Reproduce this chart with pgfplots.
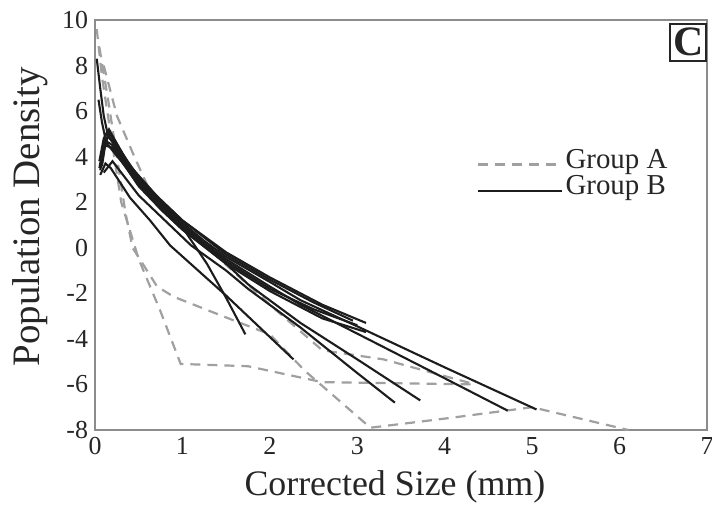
\documentclass[border=0pt]{standalone}
\usepackage{fontspec}
\setmainfont{Liberation Serif}
\usepackage{pgfplots}
\pgfplotsset{compat=1.18}
\definecolor{Frame}{HTML}{8C8C8C}
\definecolor{Ink}{HTML}{262626}
\definecolor{GrpA}{HTML}{A0A0A0}
\definecolor{GrpB}{HTML}{1C1C1C}
\tikzset{grpA/.style={GrpA,line width=1.1bp,dash pattern=on 5bp off 3.5bp},
  grpB/.style={GrpB,line width=1.05bp}}
\begin{document}
\begin{tikzpicture}
\begin{axis}[name=ax,scale only axis,width=306bp,height=205bp,
  xmin=0,xmax=7,ymin=-8,ymax=10,
  xtick={0,...,7},xticklabels={0,1,2,3,4,5,6,7},
  ytick={-8,-6,...,10},yticklabels={-8,-6,-4,-2,0,2,4,6,8,10},
  major tick length=0pt,
  axis line style={Frame,line width=1bp},
  tick label style={font=\fontsize{13}{13}\selectfont,text=Ink},
  xlabel={Corrected Size (mm)},ylabel={Population Density},
  label style={font=\fontsize{19.5}{20}\selectfont,text=Ink},
  xlabel style={at={(axis description cs:0.49,-0.139)},anchor=center,font=\fontsize{18}{19}\selectfont},
  ylabel style={at={(axis description cs:-0.106,0.52)},anchor=center},
  legend cell align=left,
  legend image code/.code={\draw[#1] (0bp,-2bp) -- (42bp,-2bp);},
  legend style={at={(axis cs:4.3,4.6)},anchor=north west,draw=none,fill=none,
    font=\fontsize{14.5}{15}\selectfont,text=Ink,row sep=0bp,
    nodes={inner sep=1bp},/tikz/every even column/.append style={column sep=6bp}}]
\addlegendimage{grpA}\addlegendentry{Group A}
\addlegendimage{grpB}\addlegendentry{Group B}
% Group A (dashed)
\addplot[grpA,forget plot] coordinates {(0.02,9.6) (0.08,7.5) (0.2,4.5) (0.3,2.0) (0.5,-0.5) (0.75,-2.8) (0.98,-5.1) (1.75,-5.2) (2.6,-5.9) (4.35,-6.0)};
\addplot[grpA,forget plot] coordinates {(0.05,8.8) (0.15,6.5) (0.25,4.0) (0.35,1.5) (0.43,0.0) (0.71,-1.7) (0.9,-2.15) (1.46,-3.0) (2.0,-3.8) (2.4,-5.4) (3.15,-7.9) (4.0,-7.5) (5.0,-7.0) (6.1,-8.0)};
\addplot[grpA,forget plot] coordinates {(0.1,8.0) (0.25,5.8) (0.45,4.0) (0.65,2.3) (1.2,0.3) (2.0,-2.5) (2.6,-4.5) (3.3,-4.9) (4.35,-6.0)};
% Group B (solid)
\addplot[grpB,forget plot] coordinates {(0.08,3.6) (0.12,4.6) (0.16,5.1) (0.22,4.7) (0.3,4.1) (0.5,3.0) (0.75,2.0) (1.0,1.1) (1.25,0.3) (1.5,-0.4) (2.0,-1.5) (2.35,-2.3) (3.0,-3.45) (4.0,-5.25) (5.05,-7.1)};
\addplot[grpB,forget plot] coordinates {(0.06,3.4) (0.1,4.3) (0.15,4.9) (0.2,4.7) (0.3,4.0) (0.5,2.9) (0.75,1.9) (1.0,1.0) (1.25,0.2) (1.5,-0.5) (2.0,-1.7) (2.35,-2.5) (3.0,-3.77) (4.0,-5.73) (4.72,-7.15)};
\addplot[grpB,forget plot] coordinates {(0.07,3.5) (0.12,4.7) (0.2,4.5) (0.5,2.8) (0.75,1.7) (1.0,0.8) (1.5,-0.7) (1.75,-1.6) (2.35,-3.3) (3.0,-4.9) (3.72,-6.7)};
\addplot[grpB,forget plot] coordinates {(0.1,3.3) (0.2,3.8) (0.5,2.3) (0.8,1.2) (1.1,0.1) (1.5,-1.0) (1.75,-1.8) (2.35,-3.5) (3.0,-5.5) (3.43,-6.8)};
\addplot[grpB,forget plot] coordinates {(0.06,3.2) (0.12,3.7) (0.18,3.5) (0.4,2.2) (0.63,1.2) (0.86,0.1) (1.5,-2.1) (2.27,-4.9)};
\addplot[grpB,forget plot] coordinates {(0.05,3.8) (0.1,4.8) (0.16,5.2) (0.3,4.2) (0.5,3.1) (0.75,2.0) (1.0,0.9) (1.28,-0.7) (1.5,-2.2) (1.72,-3.8)};
\addplot[grpB,forget plot] coordinates {(0.02,8.3) (0.06,7.0) (0.1,5.8) (0.15,4.9) (0.3,4.1) (0.5,3.1) (0.75,2.1) (1.0,1.2) (1.5,-0.3) (2.0,-1.4) (2.5,-2.4) (2.95,-3.2)};
\addplot[grpB,forget plot] coordinates {(0.04,6.5) (0.08,5.5) (0.13,4.6) (0.3,3.8) (0.5,2.8) (0.75,1.8) (1.0,0.9) (1.5,-0.6) (2.0,-1.8) (2.5,-2.7) (3.0,-3.4)};
\addplot[grpB,forget plot] coordinates {(0.05,3.5) (0.1,4.5) (0.2,4.4) (0.5,2.7) (0.75,1.7) (1.0,0.8) (1.5,-0.7) (2.0,-1.9) (2.6,-3.1) (3.1,-3.7)};
\addplot[grpB,forget plot] coordinates {(0.07,4.0) (0.12,5.0) (0.2,4.9) (0.4,3.6) (0.7,2.3) (1.0,1.2) (1.5,-0.2) (2.0,-1.3) (2.6,-2.5) (3.1,-3.3)};
\node[draw=Ink,line width=0.8bp,inner sep=1bp,minimum width=18bp,minimum height=18.5bp,
  anchor=north east,font=\fontsize{21}{21}\selectfont\bfseries,text=Ink]
  at ([yshift=-1.5bp]rel axis cs:1,1) {C};
\end{axis}
\pgfresetboundingbox
\path ([xshift=-47.5bp,yshift=-38.5bp]ax.south west) rectangle ([xshift=2.5bp,yshift=10bp]ax.north east);
\end{tikzpicture}
\end{document}
